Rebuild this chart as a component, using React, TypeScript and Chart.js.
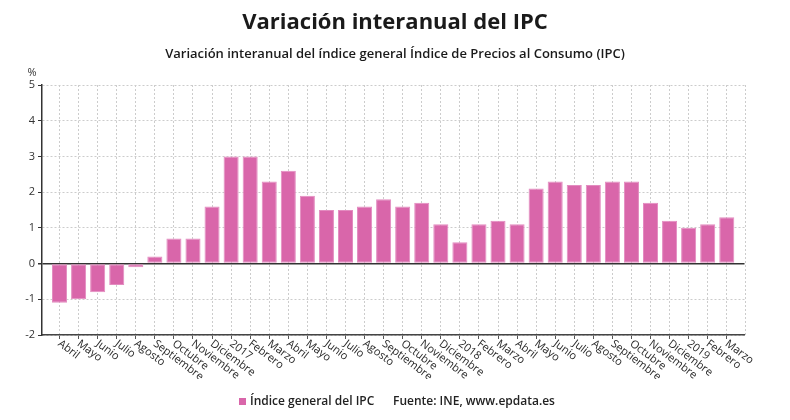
import React, { useEffect, useRef } from 'react';
import { Chart, registerables } from 'chart.js';

Chart.register(...registerables);

const categories = [
  'Abril', 'Mayo', 'Junio', 'Julio', 'Agosto', 'Septiembre', 'Octubre', 'Noviembre', 'Diciembre',
  '2017', 'Febrero', 'Marzo', 'Abril', 'Mayo', 'Junio', 'Julio', 'Agosto', 'Septiembre', 'Octubre', 'Noviembre', 'Diciembre',
  '2018', 'Febrero', 'Marzo', 'Abril', 'Mayo', 'Junio', 'Julio', 'Agosto', 'Septiembre', 'Octubre', 'Noviembre', 'Diciembre',
  '2019', 'Febrero', 'Marzo',
];

const ipcValues = [
  -1.1, -1.0, -0.8, -0.6, -0.1, 0.2, 0.7, 0.7, 1.6,
  3.0, 3.0, 2.3, 2.6, 1.9, 1.5, 1.5, 1.6, 1.8, 1.6, 1.7, 1.1,
  0.6, 1.1, 1.2, 1.1, 2.1, 2.3, 2.2, 2.2, 2.3, 2.3, 1.7, 1.2,
  1.0, 1.1, 1.3,
];

const yTicks = [-2, -1, 0, 1, 2, 3, 4, 5];

const seriesLabel = 'Índice general del IPC';
const titleText = 'Variación interanual del IPC';
const subtitleText = 'Variación interanual del índice general Índice de Precios al Consumo (IPC)';
const sourceText = 'Fuente: INE, www.epdata.es';
const unitText = '%';

const BAR_COLOR = '#d966aa';
const FONT = '"Open Sans", "DejaVu Sans", sans-serif';

const decorPlugin = {
  id: 'decor',
  beforeDatasetsDraw(chart: any) {
    const ctx = chart.ctx;
    const { right, top, bottom } = chart.chartArea;
    ctx.save();
    ctx.strokeStyle = '#cccccc';
    ctx.lineWidth = 1;
    ctx.setLineDash([2, 2]);
    ctx.beginPath();
    ctx.moveTo(Math.round(right) + 0.5, top);
    ctx.lineTo(Math.round(right) + 0.5, bottom);
    ctx.stroke();
    ctx.restore();
  },
  afterDraw(chart: any) {
    const ctx = chart.ctx;
    const { left, bottom } = chart.chartArea;
    const xs = chart.scales.x;
    const w = chart.width;
    ctx.save();
    // title
    ctx.fillStyle = '#1a1a1a';
    ctx.textAlign = 'center';
    ctx.textBaseline = 'middle';
    ctx.font = `bold 22px ${FONT}`;
    ctx.fillText(titleText, w / 2, 23);
    ctx.font = `600 13px ${FONT}`;
    ctx.fillText(subtitleText, w / 2, 54);
    // unit
    ctx.font = `11px ${FONT}`;
    ctx.fillStyle = '#333';
    ctx.fillText(unitText, left - 10, 73);
    // x labels (clipped like the original)
    ctx.save();
    ctx.beginPath();
    ctx.rect(0, bottom + 1, w, 378 - bottom);
    ctx.clip();
    ctx.textAlign = 'left';
    ctx.textBaseline = 'top';
    ctx.font = `11px ${FONT}`;
    ctx.fillStyle = '#2a2a2a';
    categories.forEach((lab, i) => {
      const px = xs.getPixelForValue(i);
      ctx.save();
      ctx.translate(px + 3, bottom + 3);
      ctx.rotate((37 * Math.PI) / 180);
      ctx.fillText(lab, 0, 0);
      ctx.restore();
    });
    ctx.restore();
    // legend
    const ds = chart.data.datasets[0];
    ctx.fillStyle = ds.backgroundColor;
    ctx.fillRect(239, 398, 7, 7);
    ctx.fillStyle = '#222';
    ctx.textBaseline = 'middle';
    ctx.textAlign = 'left';
    ctx.font = `600 12px ${FONT}`;
    ctx.fillText(ds.label, 250, 402);
    ctx.fillText(sourceText, 393, 402);
    ctx.restore();
  },
};

export default function App() {
  const canvasRef = useRef<HTMLCanvasElement | null>(null);

  useEffect(() => {
    const canvas = canvasRef.current;
    if (!canvas) return;
    const chart = new Chart(canvas, {
      type: 'bar',
      data: {
        datasets: [
          {
            label: seriesLabel,
            data: ipcValues.map((v, i) => ({ x: i, y: v })),
            backgroundColor: BAR_COLOR,
            borderColor: '#e38cc0',
            borderWidth: 1,
            borderSkipped: false,
            categoryPercentage: 1,
            barPercentage: 0.79,
          },
        ],
      },
      options: {
        responsive: false,
        animation: false,
        devicePixelRatio: 1,
        layout: { padding: { top: 85, right: 45.5, left: 0, bottom: 0 } },
        plugins: {
          legend: { display: false },
          title: { display: false },
          tooltip: { enabled: false },
        },
        scales: {
          x: {
            type: 'linear',
            offset: false,
            min: -0.92,
            max: 35.93,
            afterFit: (s: any) => {
              s.height = 85;
            },
            ticks: { display: false, stepSize: 1, includeBounds: false, autoSkip: false },
            grid: {
              offset: false,
              color: '#cccccc',
              lineWidth: 1,
              drawTicks: true,
              tickLength: 4,
              tickColor: '#555',
              tickBorderDash: [],
            },
            border: { display: true, color: '#444', width: 1.5, dash: [2, 2] },
          },
          y: {
            min: yTicks[0],
            max: yTicks[yTicks.length - 1],
            afterFit: (s: any) => {
              s.width = 42;
            },
            ticks: {
              stepSize: 1,
              color: '#333',
              font: { family: FONT, size: 11 },
              padding: 3,
            },
            grid: {
              color: (c: any) => (c.tick && c.tick.value === 0 ? '#333' : '#cccccc'),
              lineWidth: (c: any) => (c.tick && c.tick.value === 0 ? 1.5 : 1),
              drawTicks: true,
              tickLength: 4,
              tickColor: '#333',
              tickBorderDash: [],
            },
            border: {
              display: true,
              color: '#333',
              width: 1.5,
              dash: (c: any) => (c.tick && c.tick.value === 0 ? [] : [2, 2]),
            },
          },
        },
      },
      plugins: [decorPlugin],
    } as any);
    return () => chart.destroy();
  }, []);

  return (
    <div style={{ position: 'absolute', left: 0, top: 0, width: 790, height: 420, background: '#fff' }}>
      <canvas ref={canvasRef} width={790} height={420} />
    </div>
  );
}
